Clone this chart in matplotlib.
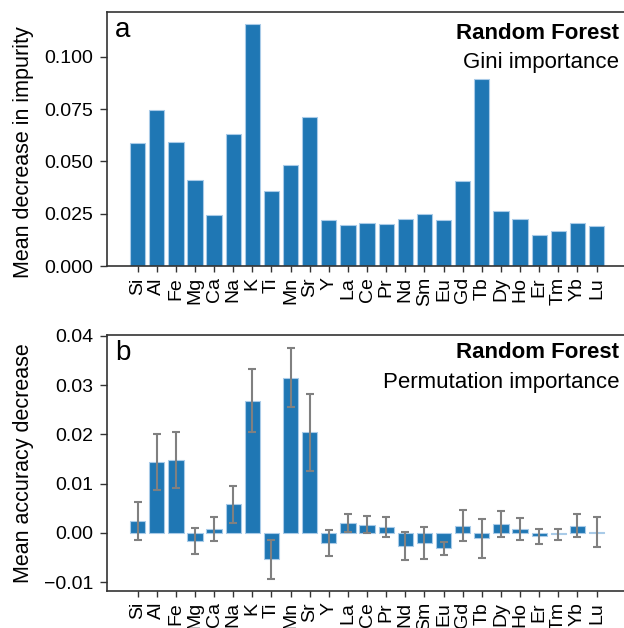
import matplotlib
matplotlib.use('Agg')
import matplotlib.pyplot as plt
import numpy as np

plt.rcParams['font.family'] = ['Liberation Sans', 'DejaVu Sans']
plt.rcParams['xtick.labelsize'] = 14
plt.rcParams['ytick.labelsize'] = 14

# elements on x axis
elements = ['Si', 'Al', 'Fe', 'Mg', 'Ca', 'Na', 'K', 'Ti', 'Mn', 'Sr', 'Y', 'La', 'Ce',
            'Pr', 'Nd', 'Sm', 'Eu', 'Gd', 'Tb', 'Dy', 'Ho', 'Er', 'Tm', 'Yb', 'Lu']

# a) gini importance
gini = [0.0590, 0.0746, 0.0592, 0.0410, 0.0243, 0.0632, 0.1158, 0.0360, 0.0485, 0.0714,
        0.0220, 0.0195, 0.0206, 0.0201, 0.0226, 0.0247, 0.0220, 0.0408, 0.0893, 0.0265,
        0.0223, 0.0150, 0.0167, 0.0204, 0.0193]

# b) permutation importance (mean, std)
perm = [0.0024, 0.0144, 0.0148, -0.0016, 0.0008, 0.0058, 0.0268, -0.0054, 0.0315, 0.0204,
        -0.0020, 0.0020, 0.0017, 0.0012, -0.0027, -0.0020, -0.0031, 0.0015, -0.0011, 0.0018,
        0.0008, -0.0007, -0.0003, 0.0015, 0.0002]
perm_err = [0.0039, 0.0057, 0.0056, 0.0026, 0.0024, 0.0037, 0.0064, 0.0039, 0.0060, 0.0079,
            0.0026, 0.0019, 0.0018, 0.0021, 0.0029, 0.0032, 0.0013, 0.0031, 0.0039, 0.0026,
            0.0022, 0.0015, 0.0011, 0.0024, 0.0030]

x = np.arange(len(elements))
bar_col = '#1f77b4'
edge_col = '#a9cbe8'

fig = plt.figure(figsize=(6.24, 6.28), dpi=100)
ax1 = fig.add_axes([0.1715, 0.5764, 0.8335, 0.4045])
ax2 = fig.add_axes([0.1715, 0.0589, 0.8335, 0.4077])


def style(ax):
    for s in ax.spines.values():
        s.set_color('#333333')
        s.set_linewidth(1.2)
    ax.tick_params(direction='out', width=1.0, color='#333333')
    ax.tick_params(axis='y', length=5, pad=5)
    ax.tick_params(axis='x', length=4, pad=4)
    ax.set_xticks(x)
    ax.set_xticklabels(elements, rotation=90)
    ax.set_xlim(-1.6, 25.6)


# a) Gini
ax1.bar(x, gini, width=0.8, color=bar_col, edgecolor=edge_col, linewidth=0.8)
style(ax1)
ax1.set_ylim(0, 0.1215)
ax1.set_yticks([0, 0.025, 0.05, 0.075, 0.1])
ax1.set_yticklabels(['0.000', '0.025', '0.050', '0.075', '0.100'])
ax1.set_ylabel('Mean decrease in impurity', fontsize=15.5)
ax1.yaxis.set_label_coords(-0.14, 0.447)
ax1.text(0.015, 0.93, 'a', transform=ax1.transAxes, fontsize=20, va='center', ha='left')
ax1.text(0.985, 0.915, 'Random Forest', transform=ax1.transAxes, fontsize=16,
         fontweight='bold', ha='right', va='center')
ax1.text(0.985, 0.80, 'Gini importance', transform=ax1.transAxes, fontsize=16,
         ha='right', va='center')

# b) Permutation
ax2.bar(x, perm, width=0.8, color=bar_col, edgecolor=edge_col, linewidth=0.8)
ax2.errorbar(x, perm, yerr=perm_err, fmt='none', ecolor='#808080', elinewidth=1.5,
             capsize=3, capthick=1.5)
style(ax2)
ax2.set_ylim(-0.0118, 0.0402)
ax2.set_yticks([-0.01, 0, 0.01, 0.02, 0.03, 0.04])
ax2.set_yticklabels(['\u22120.01', '0.00', '0.01', '0.02', '0.03', '0.04'])
ax2.set_ylabel('Mean accuracy decrease', fontsize=15.5)
ax2.yaxis.set_label_coords(-0.14, 0.5)
ax2.text(0.015, 0.93, 'b', transform=ax2.transAxes, fontsize=20, va='center', ha='left')
ax2.text(0.985, 0.93, 'Random Forest', transform=ax2.transAxes, fontsize=16,
         fontweight='bold', ha='right', va='center')
ax2.text(0.985, 0.815, 'Permutation importance', transform=ax2.transAxes, fontsize=16,
         ha='right', va='center')

fig.savefig('out.png', dpi=100)
